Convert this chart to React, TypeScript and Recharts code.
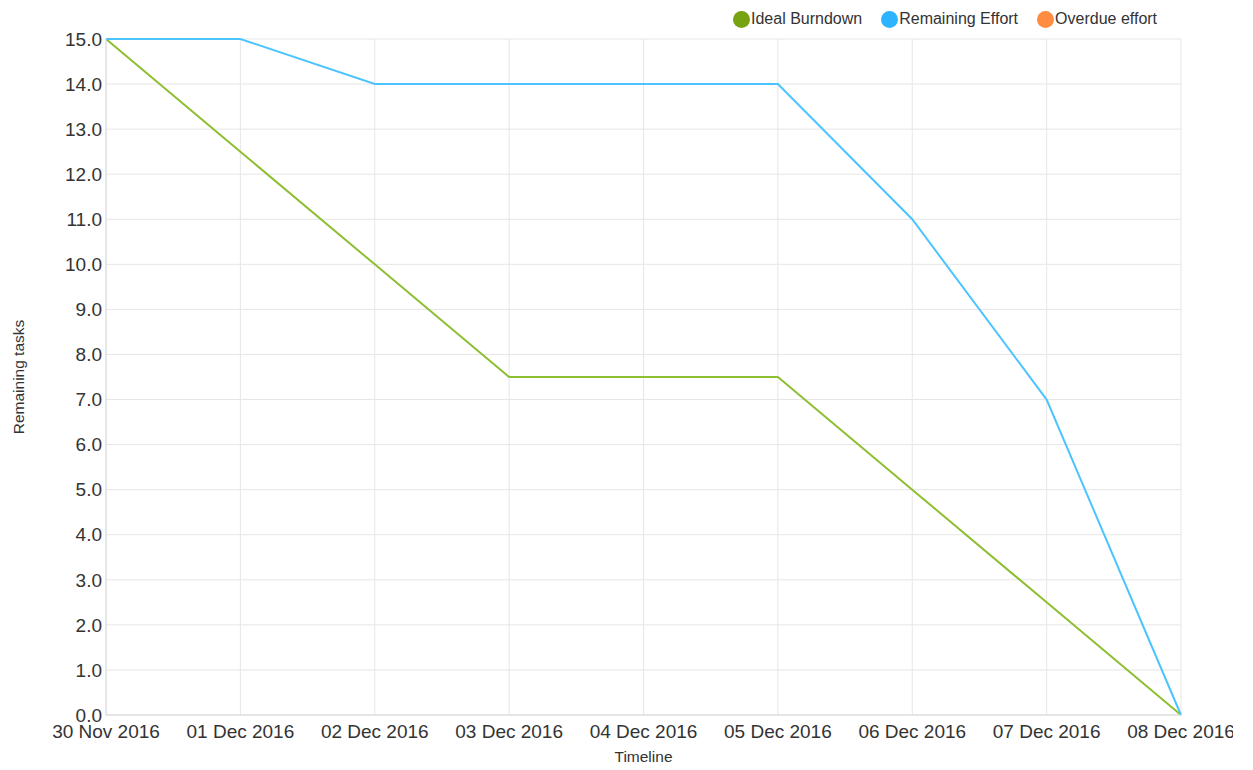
import React from 'react';
import { LineChart, Line, XAxis, YAxis, CartesianGrid, Label } from 'recharts';

const DATES = [
  '30 Nov 2016',
  '01 Dec 2016',
  '02 Dec 2016',
  '03 Dec 2016',
  '04 Dec 2016',
  '05 Dec 2016',
  '06 Dec 2016',
  '07 Dec 2016',
  '08 Dec 2016',
];
const IDEAL = [15, 12.5, 10, 7.5, 7.5, 7.5, 5, 2.5, 0];
const REMAINING = [15, 15, 14, 14, 14, 14, 11, 7, 0];
const OVERDUE: (number | null)[] = [null, null, null, null, null, null, null, null, null];
const Y_TICKS = [0, 1, 2, 3, 4, 5, 6, 7, 8, 9, 10, 11, 12, 13, 14, 15];

const SERIES = [
  { key: 'ideal', name: 'Ideal Burndown', line: '#8dbf33', dot: '#76a30f' },
  { key: 'remaining', name: 'Remaining Effort', line: '#4cc4ff', dot: '#2eb4ff' },
  { key: 'overdue', name: 'Overdue effort', line: '#ff8c40', dot: '#ff8c40' },
];

const data = DATES.map((date, i) => ({
  date,
  ideal: IDEAL[i],
  remaining: REMAINING[i],
  overdue: OVERDUE[i],
}));

const FONT = '"Liberation Sans", Arial, sans-serif';

function ChartLegend() {
  return (
    <div
      style={{
        position: 'absolute',
        top: 10,
        left: 733,
        display: 'flex',
        alignItems: 'center',
        fontFamily: FONT,
        fontSize: 16,
        color: '#333',
        lineHeight: '18px',
      }}
    >
      {SERIES.map((s) => (
        <div key={s.key} style={{ display: 'flex', alignItems: 'center', marginRight: 19 }}>
          <span style={{ width: 17, height: 17, borderRadius: 9, background: s.dot, display: 'inline-block', marginRight: 1 }} />
          <span>{s.name}</span>
        </div>
      ))}
    </div>
  );
}

export default function App() {
  return (
    <div style={{ position: 'absolute', left: 0, top: 0, width: 1233, height: 770, overflow: 'hidden', background: '#fff' }}>
      <LineChart width={1233} height={770} data={data} margin={{ top: 39, right: 52, left: 0, bottom: 0 }}>
        <CartesianGrid stroke="#e6e6e6" strokeWidth={1} />
        <XAxis
          dataKey="date"
          height={55}
          stroke="#d9d9d9"
          tickLine={false}
          tickSize={4}
          tickMargin={6}
          interval={0}
          tick={{ fontSize: 19, fill: '#333', fontFamily: FONT }}
        >
          <Label value="Timeline" position="insideBottom" offset={8} style={{ fontSize: 15.5, fill: '#333', fontFamily: FONT }} />
        </XAxis>
        <YAxis
          width={106}
          domain={[0, 15]}
          ticks={Y_TICKS}
          interval={0}
          stroke="#d9d9d9"
          tickLine={false}
          tickSize={2}
          tickMargin={2}
          tickFormatter={(v: number) => v.toFixed(1)}
          tick={{ fontSize: 19, fill: '#333', fontFamily: FONT }}
        >
          <Label
            content={({ viewBox }: any) => {
              const cx = viewBox.x + 18;
              const cy = viewBox.y + viewBox.height / 2;
              return (
                <text
                  x={cx}
                  y={cy}
                  textAnchor="middle"
                  dominantBaseline="central"
                  transform={`rotate(-90 ${cx} ${cy})`}
                  style={{ fontSize: 15.5, fill: '#333', fontFamily: FONT }}
                >
                  Remaining tasks
                </text>
              );
            }}
          />
        </YAxis>
        {SERIES.map((s) => (
          <Line
            key={s.key}
            type="linear"
            dataKey={s.key}
            name={s.name}
            stroke={s.line}
            strokeWidth={2}
            dot={false}
            activeDot={false}
            isAnimationActive={false}
          />
        ))}
      </LineChart>
      <ChartLegend />
    </div>
  );
}
